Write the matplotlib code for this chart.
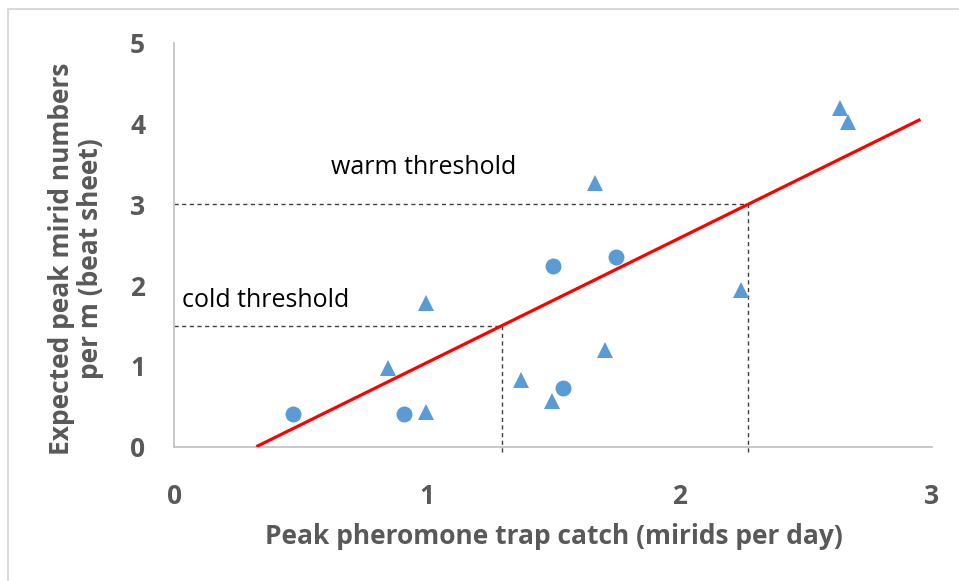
import matplotlib
matplotlib.use("Agg")
import matplotlib.pyplot as plt
from matplotlib.patches import Rectangle

# ---- data ----
circle_x = [0.469, 0.911, 1.501, 1.748, 1.541]
circle_y = [0.405, 0.405, 2.24, 2.35, 0.73]
tri_x = [0.845, 0.997, 0.997, 1.373, 1.496, 1.667, 1.707, 2.244, 2.636, 2.667]
tri_y = [0.98, 1.78, 0.43, 0.82, 0.56, 3.26, 1.20, 1.94, 4.19, 4.02]
fit_slope = 1.54
fit_intercept = -0.50
fit_x_range = [0.325, 2.955]
cold_threshold = 1.5
warm_threshold = 3.0
x_ticks = [0, 1, 2, 3]
y_ticks = [0, 1, 2, 3, 4, 5]
x_label = "Peak pheromone trap catch (mirids per day)"
y_label = "Expected peak mirid numbers\nper m (beat sheet)"

plt.rcParams['font.family'] = ['Open Sans', 'DejaVu Sans']

W, H = 959, 581
fig = plt.figure(figsize=(W / 100, H / 100), dpi=100)
fig.patches.append(Rectangle((8 / W, -0.05), 1.1, 1 - 9 / H + 0.05, transform=fig.transFigure,
                             fill=False, edgecolor='#d9d9d9', linewidth=1.5))

ax = fig.add_axes([174.3 / W, 1 - 446.7 / H, (931.8 - 174.3) / W, (446.7 - 42.7) / H])
ax.set_xlim(0, 3)
ax.set_ylim(0, 5)

blue = '#5B9BD5'
ax.plot(circle_x, circle_y, 'o', color=blue, markersize=11.5, markeredgewidth=0, clip_on=False, zorder=4)
ax.plot(tri_x, tri_y, '^', color=blue, markersize=12, markeredgewidth=0, clip_on=False, zorder=4)

fx = fit_x_range
fy = [fit_slope * v + fit_intercept for v in fx]
ax.plot(fx, fy, color='#FF0000', linewidth=2.3, solid_capstyle='butt', zorder=3)

cold_x = (cold_threshold - fit_intercept) / fit_slope
warm_x = (warm_threshold - fit_intercept) / fit_slope
dash = dict(color='#404040', linewidth=1.0, linestyle=(0, (3, 2.5)), zorder=2, clip_on=False)
ax.plot([0, cold_x], [cold_threshold, cold_threshold], **dash)
ax.plot([cold_x, cold_x], [-0.07, cold_threshold], **dash)
ax.plot([0, warm_x], [warm_threshold, warm_threshold], **dash)
ax.plot([warm_x, warm_x], [-0.07, warm_threshold], **dash)

ax.text(0.03, 1.81, "cold threshold", fontsize=18, color='#000000', ha='left', va='center')
ax.text(0.62, 3.45, "warm threshold", fontsize=18, color='#000000', ha='left', va='center')

for s in ['top', 'right']:
    ax.spines[s].set_visible(False)
for s in ['left', 'bottom']:
    ax.spines[s].set_color('#bfbfbf')
    ax.spines[s].set_linewidth(1.2)

ax.set_xticks(x_ticks)
ax.set_yticks(y_ticks)
ax.set_xticklabels([str(t) for t in x_ticks])
ax.set_yticklabels([str(t) for t in y_ticks])
ax.tick_params(axis='both', length=0, labelsize=19, labelcolor='#595959')
ax.tick_params(axis='x', pad=26)
ax.tick_params(axis='y', pad=21)
for lab in ax.get_xticklabels() + ax.get_yticklabels():
    lab.set_fontweight('bold')

fig.text((263 + 845) / 2 / W, 1 - 537 / H, x_label, fontsize=19, fontweight='bold', color='#595959',
         ha='center', va='center')
fig.text(76 / W, 1 - 259 / H, y_label, fontsize=19, fontweight='bold', color='#595959',
         ha='center', va='center', rotation=90, multialignment='center', linespacing=1.1)

fig.savefig("out.png", dpi=100)
